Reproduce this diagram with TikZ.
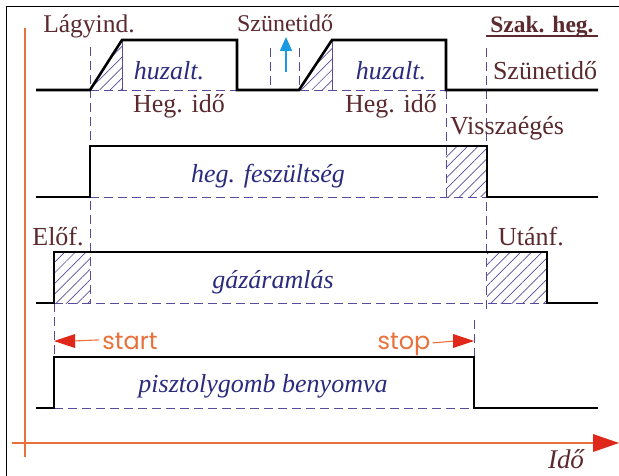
\documentclass[tikz,border=0pt]{standalone}
\usepackage{fontspec}
\setmainfont{Liberation Serif}
\newfontfamily\stfont{Poppins}
\usetikzlibrary{arrows.meta,patterns.meta}
\definecolor{lbl}{HTML}{5A2A2E}
\definecolor{ital}{HTML}{2A2A7E}
\definecolor{dsh}{HTML}{5A4A9E}
\definecolor{ora}{HTML}{E8703A}
\definecolor{redt}{HTML}{E0281A}
\definecolor{bluar}{HTML}{1A9AE0}
\tikzset{
  sig/.style={line width=2.6pt, black, line join=miter},
  guide/.style={dsh, line width=0.8pt, dash pattern=on 9pt off 5pt},
  hatch/.style={pattern={Lines[angle=45,distance=7.5pt,line width=0.7pt]}, pattern color=dsh},
  hedge/.style={dsh, line width=0.8pt},
  lab/.style={text=lbl, font=\fontsize{26}{30}\selectfont, anchor=base, inner sep=0pt},
  itl/.style={text=ital, font=\fontsize{26}{30}\selectfont\itshape, anchor=base, inner sep=0pt},
  stlab/.style={text=ora, font=\stfont\fontsize{24}{28}\selectfont, anchor=base, inner sep=0pt},
  axis/.style={ora, line width=1.1pt},
}
\begin{document}
\begin{tikzpicture}[x=1pt,y=-1pt]
\useasboundingbox (0,0) rectangle (619,476);
% frame
\draw[black, line width=1pt] (6,476) -- (6,7) -- (619,7);
% axes
\draw[axis] (25,28) -- (25,457);
\draw[axis] (12,443) -- (596,443);
\fill[redt] (593,434) -- (619,443) -- (593,452) -- cycle;

% hatches
\fill[hatch] (90,90) -- (122,40) -- (122,90) -- cycle;
\fill[hatch] (299,90) -- (332,40) -- (332,90) -- cycle;
\fill[hatch] (446,146) rectangle (487,197);
\fill[hatch] (54,252) rectangle (90,303);
\fill[hatch] (487,252) rectangle (547,303);
\draw[hedge] (122,40) -- (122,90);
\draw[hedge] (332,40) -- (332,90);

% guides
\draw[guide] (90,47) -- (90,303);
\draw[guide] (270,48) -- (270,90);
\draw[guide] (299,48) -- (299,90);
\draw[guide] (446,90) -- (446,197);
\draw[guide] (486,48) -- (486,310);
\draw[guide] (54,303) -- (54,357);
\draw[guide] (474,320) -- (474,357);
\draw[guide] (90,90) -- (446,90);
\draw[guide] (90,197) -- (487,197);
\draw[guide] (54,303) -- (547,303);
\draw[guide] (54,408) -- (474,408);

% signals
\draw[sig] (36,90) -- (90,90) -- (122,40) -- (237,40) -- (237,90) -- (299,90) -- (332,40) -- (446,40) -- (446,90) -- (598,90);
\draw[sig] (36,197) -- (90,197) -- (90,146) -- (487,146) -- (487,197) -- (598,197);
\draw[sig] (36,303) -- (54,303) -- (54,252) -- (547,252) -- (547,303) -- (598,303);
\draw[sig] (36,408) -- (54,408) -- (54,357) -- (474,357) -- (474,408) -- (598,408);

% blue arrow
\draw[bluar, line width=1.6pt, -{Triangle[length=14pt,width=12pt]}] (286,72) -- (286,37);

% start / stop
\node[stlab] (start) at (130,349) {start};
\node[stlab] (stop) at (404,349) {stop};
\coordinate (startTip) at (54,341);
\coordinate (stopTip) at (474,341);
\draw[ora, line width=1.1pt] (start.west) ++(-3,-1) -- (73,341);
\fill[redt] (startTip) -- (75,334) -- (75,348) -- cycle;
\draw[ora, line width=1.1pt] (stop.east) ++(2,-1) -- (455,341);
\fill[redt] (stopTip) -- (453,334) -- (453,348) -- cycle;

% labels
\node[lab, font=\fontsize{25.5}{30}\selectfont] (lagy) at (89,33) {Lágyind.};
\node[lab, font=\fontsize{24}{28}\selectfont] (szun1) at (285,32) {Szünetidő};
\node[lab, font=\fontsize{23.5}{28}\selectfont\bfseries] (szak) at (542,33) {Szak. heg.};
\draw[lbl, line width=1.2pt] (486,36) -- (598,36);
\node[itl] (huz1) at (169,80) {huzalt.};
\node[itl] (huz2) at (391,80) {huzalt.};
\node[lab] (heg1) at (179,113) {Heg. idő};
\node[lab] (heg2) at (391,113) {Heg. idő};
\node[lab] (szun2) at (545,80) {Szünetidő};
\node[lab] (vissza) at (507,135) {Visszaégés};
\node[itl] (fesz) at (268,183) {heg. feszültség};
\node[lab] (elof) at (58,245) {Előf.};
\node[itl] (gaz) at (273,288) {gázáramlás};
\node[lab] (utanf) at (531,245) {Utánf.};
\node[itl] (piszt) at (263,392) {pisztolygomb benyomva};
\node[lab, font=\fontsize{27}{30}\selectfont\itshape] (ido) at (566,468) {Idő};
\end{tikzpicture}
\end{document}
